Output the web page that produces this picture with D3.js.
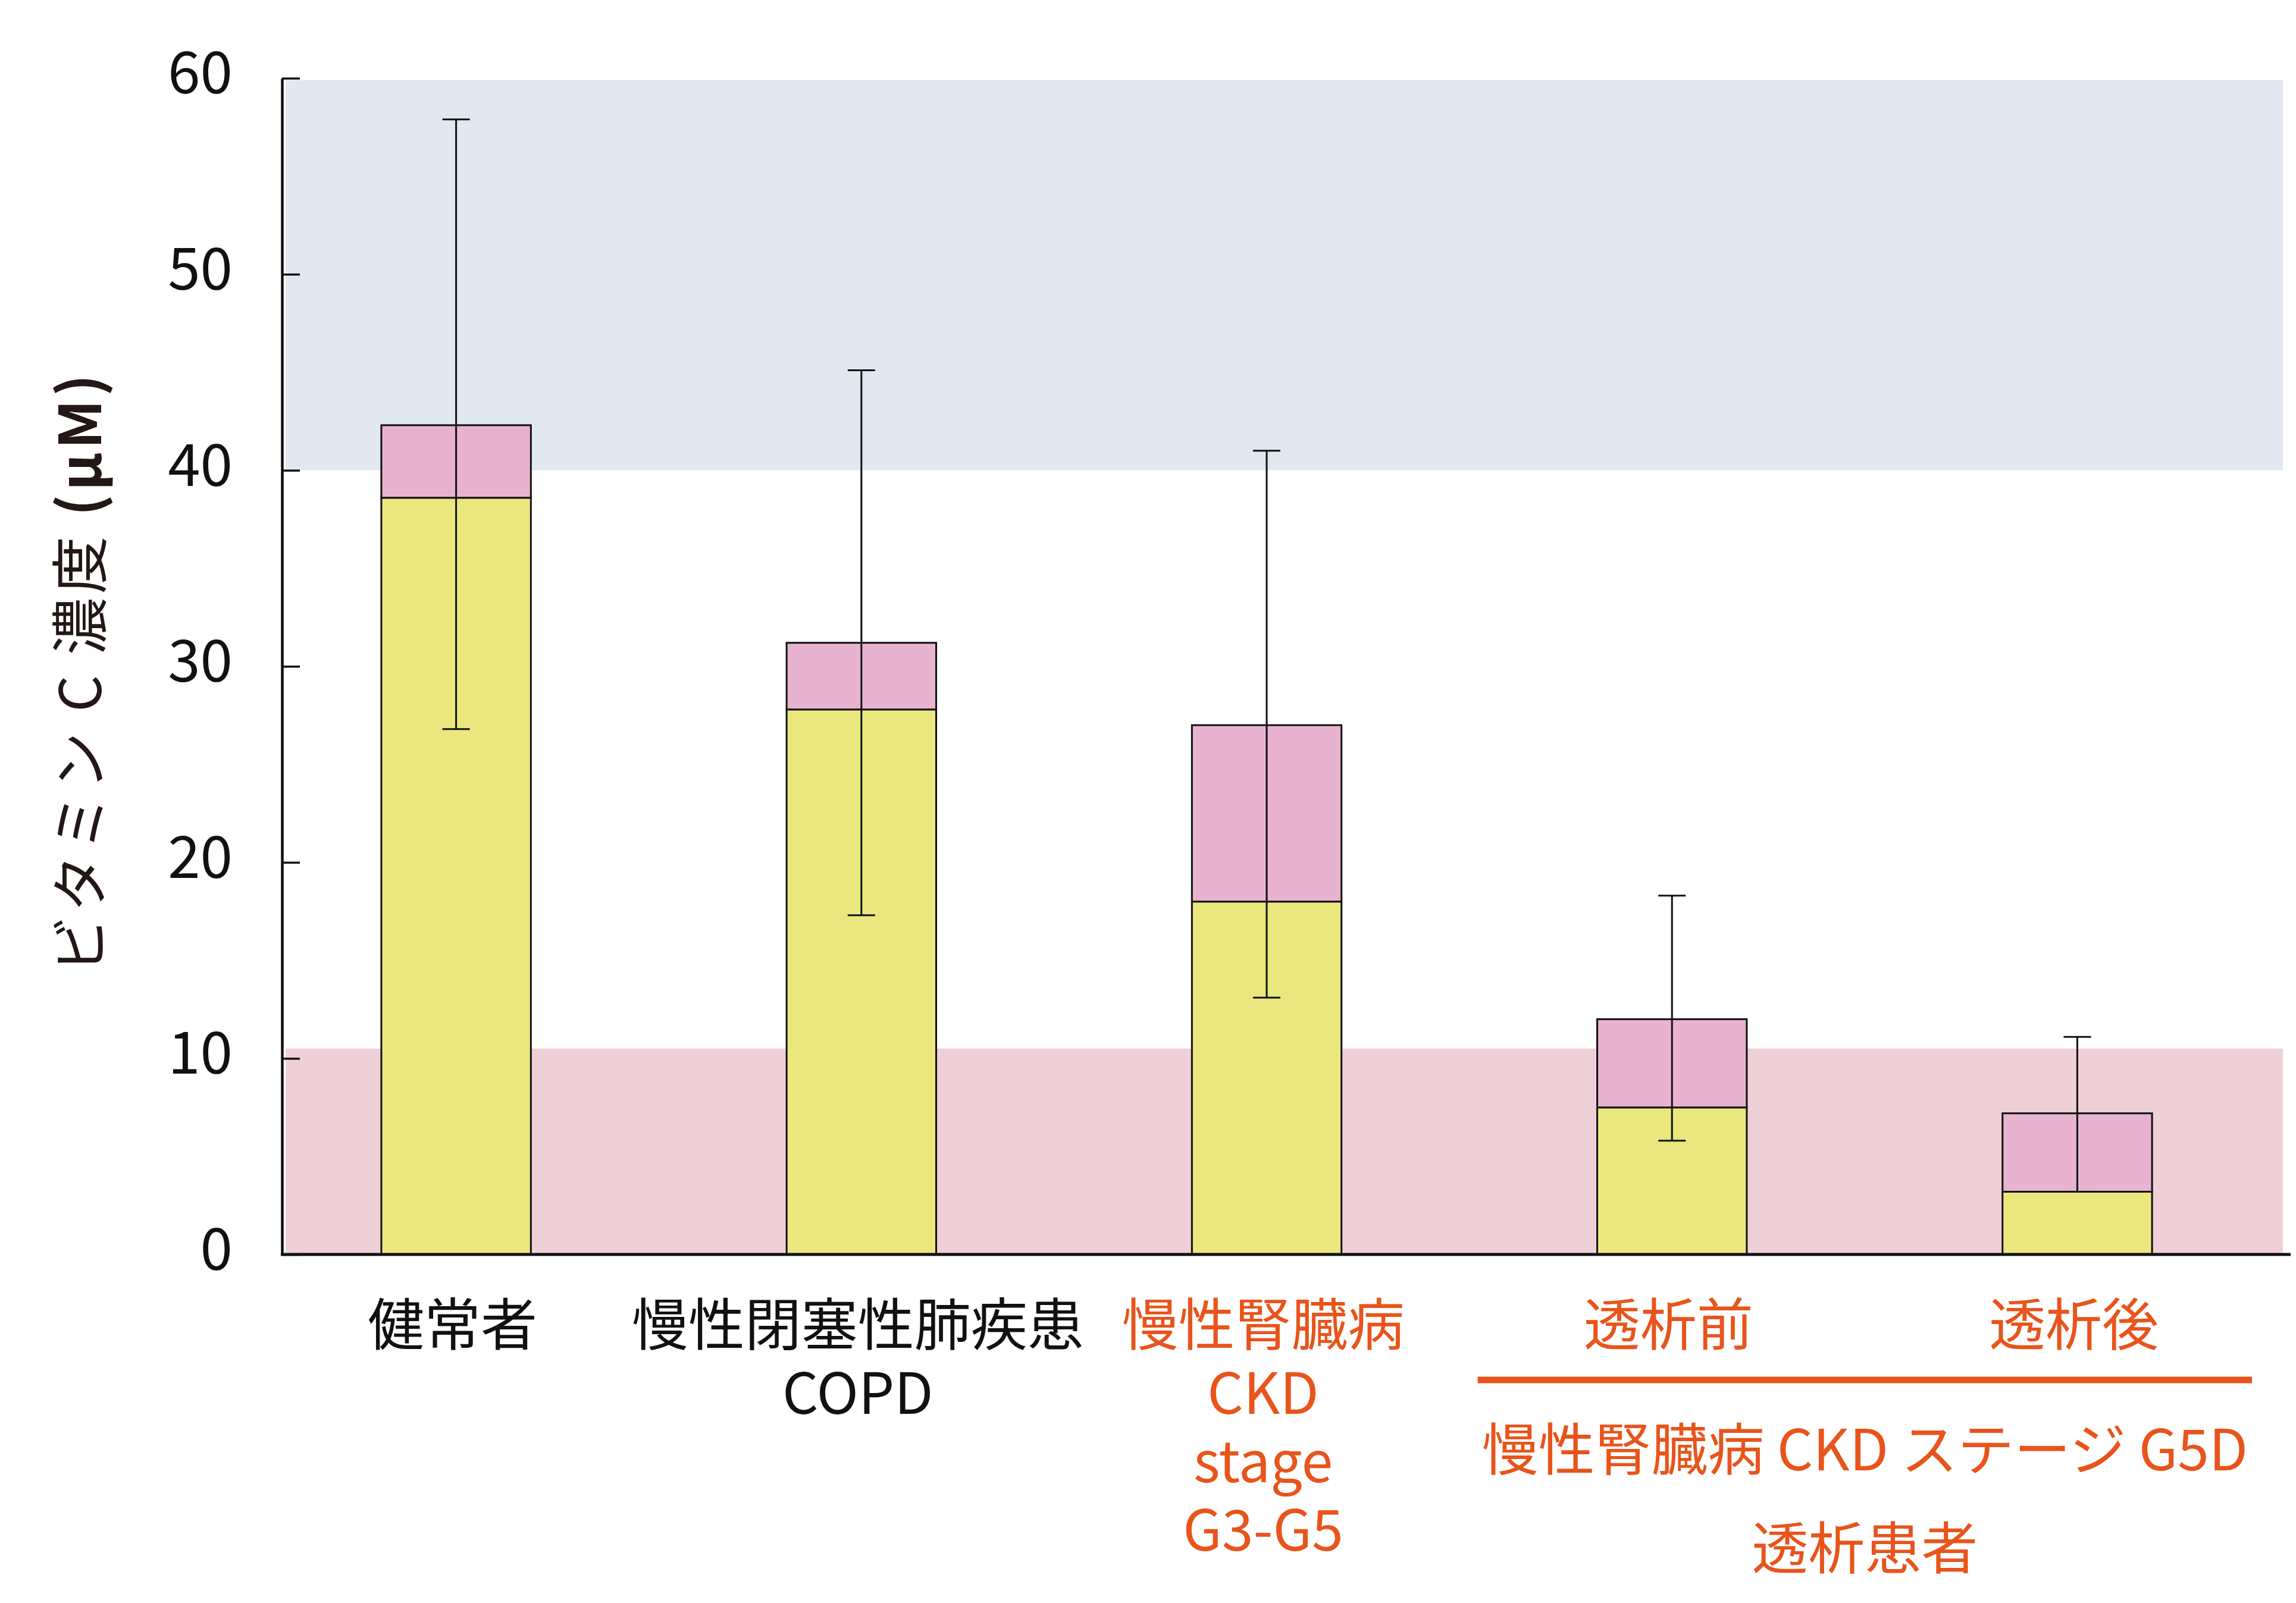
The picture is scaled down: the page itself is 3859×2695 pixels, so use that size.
<!DOCTYPE html>
<html>
<head>
<meta charset="utf-8">
<script src="https://cdn.jsdelivr.net/npm/d3@7"></script>
<style>
  html, body { margin: 0; padding: 0; background: #ffffff; }
  svg { display: block; }
  text { font-family: "Noto Sans CJK JP", "Noto Sans", sans-serif; }
</style>
</head>
<body>
<script>
// ---------------- data ----------------
const categories = ["健常者", "慢性閉塞性肺疾患", "慢性腎臓病", "透析前", "透析後"];
const labelLines = [
  ["健常者"],
  ["慢性閉塞性肺疾患", "COPD"],
  ["慢性腎臓病", "CKD", "stage", "G3-G5"],
  ["透析前"],
  ["透析後"]
];
const labelHighlighted = [false, false, true, true, true];
const lowerValues = [38.6, 27.8, 18.0, 7.5, 3.2];   // yellow segment top
const totalValues = [42.3, 31.2, 27.0, 12.0, 7.2];  // pink segment top
const errHigh = [57.9, 45.1, 41.0, 18.3, 11.1];
const errLow = [26.8, 17.3, 13.1, 5.8, 3.2];
const yTicks = [0, 10, 20, 30, 40, 50, 60];
const highBand = [40, 60];
const lowBand = [0, 10.5];
const groupCategories = ["透析前", "透析後"];
const groupLabelLines = ["慢性腎臓病 CKD ステージ G5D", "透析患者"];
const yTitle = "ビタミン C 濃度 ";
const yTitleUnit = "(µM)";

// ---------------- layout ----------------
const W = 3859, H = 2695;
const axisX = 474, plotRight = 3837, axisRight = 3850;
const yBottom = 2109, yTop = 131.5;
const colors = {
  blueBand: "#E1E8F1", pinkBand: "#EFD0D6",
  yellow: "#EAE77F", pink: "#E8B3D1",
  orange: "#E8541B", black: "#111111"
};

const svg = d3.select("body").append("svg")
  .attr("width", W).attr("height", H)
  .attr("viewBox", `0 0 ${W} ${H}`);

const y = d3.scaleLinear().domain([0, 60]).range([yBottom, yTop]);
const x = d3.scaleBand().domain(categories)
  .range([426, 3832]).paddingInner(0.631).paddingOuter(0.3155);
const bw = x.bandwidth();
const cx = c => x(c) + bw / 2;

// reference bands
svg.append("rect")
  .attr("x", axisX + 6).attr("width", plotRight - axisX - 6)
  .attr("y", y(highBand[1]) + 3).attr("height", y(highBand[0]) - y(highBand[1]) - 3)
  .attr("fill", colors.blueBand);
svg.append("rect")
  .attr("x", axisX + 6).attr("width", plotRight - axisX - 6)
  .attr("y", y(lowBand[1])).attr("height", y(lowBand[0]) - y(lowBand[1]))
  .attr("fill", colors.pinkBand);

// bars
const data = categories.map((c, i) => ({
  c, lower: lowerValues[i], total: totalValues[i], hi: errHigh[i], lo: errLow[i]
}));

const g = svg.append("g");
g.selectAll("rect.lower").data(data).join("rect")
  .attr("class", "lower")
  .attr("x", d => x(d.c)).attr("width", bw)
  .attr("y", d => y(d.lower)).attr("height", d => y(0) - y(d.lower))
  .attr("fill", colors.yellow).attr("stroke", colors.black).attr("stroke-width", 3);
g.selectAll("rect.upper").data(data).join("rect")
  .attr("class", "upper")
  .attr("x", d => x(d.c)).attr("width", bw)
  .attr("y", d => y(d.total)).attr("height", d => y(d.lower) - y(d.total))
  .attr("fill", colors.pink).attr("stroke", colors.black).attr("stroke-width", 3);

// error bars
const capW = 46;
const eb = svg.append("g").attr("stroke", colors.black).attr("stroke-width", 3);
eb.selectAll("line.v").data(data).join("line")
  .attr("x1", d => cx(d.c)).attr("x2", d => cx(d.c))
  .attr("y1", d => y(d.lo)).attr("y2", d => y(d.hi));
eb.selectAll("line.top").data(data).join("line")
  .attr("x1", d => cx(d.c) - capW / 2).attr("x2", d => cx(d.c) + capW / 2)
  .attr("y1", d => y(d.hi)).attr("y2", d => y(d.hi));
eb.selectAll("line.bot").data(data).join("line")
  .attr("x1", d => cx(d.c) - capW / 2).attr("x2", d => cx(d.c) + capW / 2)
  .attr("y1", d => y(d.lo)).attr("y2", d => y(d.lo));

// y axis
const yAxis = d3.axisLeft(y).tickValues(yTicks).tickSizeInner(-30).tickSizeOuter(0).tickPadding(83);
const ya = svg.append("g").attr("transform", `translate(${axisX},0)`).call(yAxis);
ya.select(".domain").attr("stroke", colors.black).attr("stroke-width", 4.5);
ya.selectAll(".tick line").attr("stroke", colors.black).attr("stroke-width", 3.5);
ya.selectAll(".tick text")
  .attr("font-size", 98).attr("fill", colors.black)
  .attr("font-family", "'Noto Sans CJK JP', sans-serif")
  .attr("dy", "0.26em");

// x axis baseline
svg.append("line")
  .attr("x1", axisX - 2).attr("x2", axisRight)
  .attr("y1", y(0)).attr("y2", y(0))
  .attr("stroke", colors.black).attr("stroke-width", 5);

// category labels
const lineH = 115, firstBase = 2262, labelShift = -6;
const lab = svg.append("g").attr("text-anchor", "middle").attr("font-size", 95);
categories.forEach((c, i) => {
  const t = lab.append("text")
    .attr("fill", labelHighlighted[i] ? colors.orange : colors.black);
  labelLines[i].forEach((ln, j) => {
    t.append("tspan").attr("x", cx(c) + labelShift).attr("y", firstBase + j * lineH).text(ln);
  });
});

// group bracket line + label
const gx0 = x(groupCategories[0]) - 201, gx1 = x(groupCategories[1]) + bw + 168;
svg.append("line")
  .attr("x1", gx0).attr("x2", gx1).attr("y1", 2320).attr("y2", 2320)
  .attr("stroke", colors.orange).attr("stroke-width", 11);
const gmid = (gx0 + gx1) / 2;
svg.append("text").attr("text-anchor", "middle").attr("font-size", 95)
  .attr("fill", colors.orange)
  .selectAll("tspan").data(groupLabelLines).join("tspan")
  .attr("x", gmid).attr("y", (d, i) => 2472 + i * 166).text(d => d);

// y title
const yt = svg.append("text")
  .attr("transform", `translate(170,1130) rotate(-90)`)
  .attr("text-anchor", "middle").attr("font-size", 97).attr("fill", "#231815")
  .attr("letter-spacing", 6);
yt.append("tspan").text(yTitle);
yt.append("tspan").attr("font-weight", "bold").text(yTitleUnit);
</script>
</body>
</html>
